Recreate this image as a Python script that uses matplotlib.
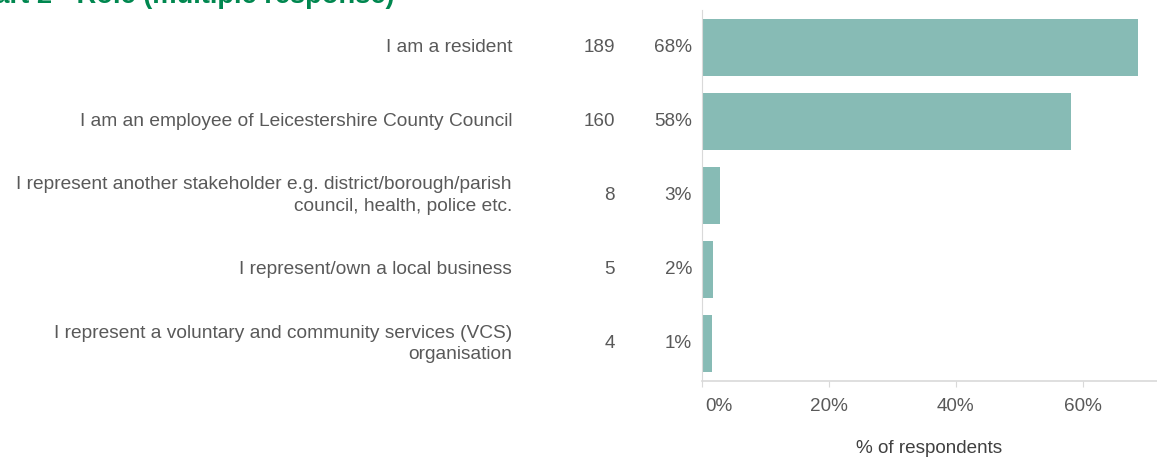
import matplotlib.pyplot as plt
import matplotlib.transforms as mtransforms

plt.rcParams['font.family'] = ['Liberation Sans', 'DejaVu Sans']

categories = [
    "I am a resident",
    "I am an employee of Leicestershire County Council",
    "I represent another stakeholder e.g. district/borough/parish\ncouncil, health, police etc.",
    "I represent/own a local business",
    "I represent a voluntary and community services (VCS)\norganisation",
]
counts = [189, 160, 8, 5, 4]
pct = [68.7, 58.2, 2.9, 1.8, 1.5]
pct_labels = ["68%", "58%", "3%", "2%", "1%"]
xticks = [0, 20, 40, 60]
xtick_labels = ["0%", "20%", "40%", "60%"]

text_col = "#595959"
bar_col = "#87bbb5"
fs = 13.6

W, H = 1157, 458
fig = plt.figure(figsize=(W / 100, H / 100), dpi=100)
ax = fig.add_axes([702 / W, 1 - 381 / H, 1 - 702 / W, (381 - 10) / H])

y = list(range(len(categories)))
ax.barh(y, pct, height=0.77, color=bar_col)
ax.set_ylim(4.5, -0.5)
ax.set_xlim(0, 71.7)

ax.set_yticks([])
ax.set_xticks(xticks)
ax.set_xticklabels(xtick_labels, fontsize=fs, color=text_col)
ax.tick_params(axis='x', length=4, color="#d9d9d9", pad=8)
# first label sits just inside the axis
lbl0 = ax.get_xticklabels()[0]
lbl0.set_horizontalalignment('left')
lbl0.set_transform(lbl0.get_transform() + mtransforms.ScaledTranslation(3 / 100, 0, fig.dpi_scale_trans))

for s in ['top', 'right']:
    ax.spines[s].set_visible(False)
ax.spines['left'].set_color("#d9d9d9")
ax.spines['bottom'].set_color("#d9d9d9")
ax.spines['bottom'].set_linewidth(1.2)

ax.set_xlabel("% of respondents", fontsize=fs, color="#404040", labelpad=18)

tr = mtransforms.blended_transform_factory(fig.transFigure, ax.transData)
for i in y:
    ax.text(512 / W, i, categories[i], transform=tr, ha='right', va='center',
            fontsize=13.8, color=text_col, linespacing=1.35)
    ax.text(615 / W, i, str(counts[i]), transform=tr, ha='right', va='center',
            fontsize=fs, color=text_col)
    ax.text(692 / W, i, pct_labels[i], transform=tr, ha='right', va='center',
            fontsize=fs, color=text_col)

fig.text(395 / W, 1 - 3 / H, "Chart 2 - Role (multiple response)", ha='right',
         va='baseline', fontsize=19.6, fontweight='bold', color="#00874f")

fig.savefig("out.png", dpi=100)
